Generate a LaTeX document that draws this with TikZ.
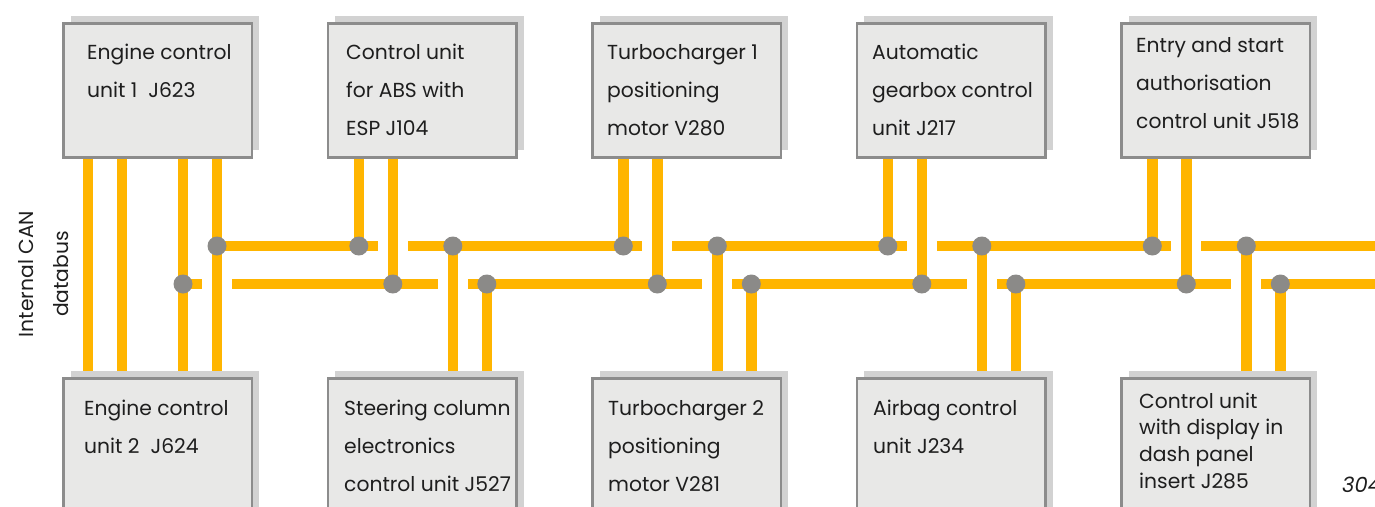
\documentclass[tikz,border=0pt]{standalone}
\usepackage{fontspec}
\setmainfont{Poppins}
\usetikzlibrary{shadows,backgrounds,calc}
\definecolor{wireY}{RGB}{255,181,0}
\definecolor{dotG}{RGB}{139,138,136}
\definecolor{boxF}{RGB}{232,232,231}
\definecolor{boxB}{RGB}{140,140,140}
\definecolor{shadowG}{RGB}{210,210,210}
\definecolor{txt}{RGB}{30,30,30}
\newcommand\unittext[5]{%
  \foreach \tline [count=\ti] in {#5} {%
    \node[lbl] (#1-\ti) at (#2,{#3+(\ti-1)*#4}) {\tline};}}
\begin{document}
\begin{tikzpicture}[x=1pt,y=-1pt,
  unit/.style={draw=boxB, line width=2.6pt, fill=boxF, minimum width=188.5pt,
    inner sep=0pt, outer sep=0pt, anchor=north west,
    general shadow={fill=shadowG, shadow xshift=7.5pt, shadow yshift=7.5pt}},
  topunit/.style={unit, minimum height=134pt},
  botunit/.style={unit, minimum height=200pt},
  wire/.style={draw=wireY, line width=10.5pt},
  jdot/.style={circle, fill=dotG, minimum size=19pt, inner sep=0pt},
  lbl/.style={font=\fontsize{20.3}{38}\selectfont, text=txt, inner sep=0pt, anchor=base west},
  smalllbl/.style={lbl, font=\fontsize{20.3}{27}\selectfont},
]
\useasboundingbox (0,0) rectangle (1375,506);

% boxes
\node[topunit] (T1) at (63.3,23.3) {};
\node[topunit] (T2) at (327.8,23.3) {};
\node[topunit] (T3) at (592.3,23.3) {};
\node[topunit] (T4) at (856.8,23.3) {};
\node[topunit] (T5) at (1121.3,23.3) {};
\node[botunit] (B1) at (63.3,378.3) {};
\node[botunit] (B2) at (327.8,378.3) {};
\node[botunit] (B3) at (592.3,378.3) {};
\node[botunit] (B4) at (856.8,378.3) {};
\node[botunit] (B5) at (1121.3,378.3) {};

% junctions: upper bus y=246, lower bus y=284
\coordinate (e1) at (88,246);
\coordinate (e2) at (122,246);
\coordinate (u1) at (217,246);
\coordinate (l1) at (183,284);
\coordinate (u2t) at (358.8,246);  \coordinate (l2t) at (392.8,284);
\coordinate (u2b) at (452.8,246);  \coordinate (l2b) at (486.8,284);
\coordinate (u3t) at (623.3,246);  \coordinate (l3t) at (657.3,284);
\coordinate (u3b) at (717.3,246);  \coordinate (l3b) at (751.3,284);
\coordinate (u4t) at (887.8,246);  \coordinate (l4t) at (921.8,284);
\coordinate (u4b) at (981.8,246);  \coordinate (l4b) at (1015.8,284);
\coordinate (u5t) at (1152.3,246); \coordinate (l5t) at (1186.3,284);
\coordinate (u5b) at (1246.3,246); \coordinate (l5b) at (1280.3,284);
\coordinate (eu) at (1385,246);
\coordinate (el) at (1385,284);

\begin{scope}[on background layer]
  % unit 1 lines, top to bottom
  \draw[wire] (e1 |- T1.south) -- (e1 |- B1.north);
  \draw[wire] (e2 |- T1.south) -- (e2 |- B1.north);
  \draw[wire] (l1 |- T1.south) -- (l1 |- B1.north);
  \draw[wire] (u1 |- T1.south) -- (u1 |- B1.north);
  % top units to buses
  \foreach \k in {2,3,4,5} {
    \draw[wire] (u\k t |- T\k.south) -- (u\k t);
    \draw[wire] (l\k t |- T\k.south) -- (l\k t);
    \draw[wire] (u\k b) -- (u\k b |- B\k.north);
    \draw[wire] (l\k b) -- (l\k b |- B\k.north);
  }
  % upper bus
  \draw[wire] (u1) -- ([xshift=-15pt]l2t |- u1);
  \draw[wire] ([xshift=15pt]l2t |- u1) -- ([xshift=-15pt]l3t |- u1);
  \draw[wire] ([xshift=15pt]l3t |- u1) -- ([xshift=-15pt]l4t |- u1);
  \draw[wire] ([xshift=15pt]l4t |- u1) -- ([xshift=-15pt]l5t |- u1);
  \draw[wire] ([xshift=15pt]l5t |- u1) -- (eu);
  % lower bus
  \draw[wire] (l1) -- ([xshift=-15pt]u1 |- l1);
  \draw[wire] ([xshift=15pt]u1 |- l1) -- ([xshift=-15pt]u2b |- l1);
  \draw[wire] ([xshift=15pt]u2b |- l1) -- ([xshift=-15pt]u3b |- l1);
  \draw[wire] ([xshift=15pt]u3b |- l1) -- ([xshift=-15pt]u4b |- l1);
  \draw[wire] ([xshift=15pt]u4b |- l1) -- ([xshift=-15pt]u5b |- l1);
  \draw[wire] ([xshift=15pt]u5b |- l1) -- (el);
\end{scope}

% junction dots
\foreach \j in {u1,l1,u2t,l2t,u2b,l2b,u3t,l3t,u3b,l3b,u4t,l4t,u4b,l4b,u5t,l5t,u5b,l5b}
  \node[jdot] (d-\j) at (\j) {};

% texts
\unittext{tT1}{87}{59}{38}{Engine control,unit 1\ \ J623}
\unittext{tT2}{346}{59}{38}{Control unit,for ABS with,ESP J104}
\unittext{tT3}{607}{59}{38}{Turbocharger 1,positioning,motor V280}
\unittext{tT4}{872}{59}{38}{Automatic,gearbox control,unit J217}
\unittext{tT5}{1136}{52}{38}{Entry and start,authorisation,control unit J518}
\unittext{tB1}{84}{415}{38}{Engine control,unit 2\ \ J624}
\unittext{tB2}{344}{415}{38}{Steering column,electronics,control unit J527}
\unittext{tB3}{608}{415}{38}{Turbocharger 2,positioning,motor V281}
\unittext{tB4}{873}{415}{38}{Airbag control,unit J234}
\foreach \tline [count=\ti] in {Control unit,with display in,dash panel,insert J285}
  \node[smalllbl] (tB5-\ti) at (1139,{408+(\ti-1)*26.7}) {\tline};

% side label
\node[lbl, anchor=base, rotate=90] (can1) at (33,274) {Internal CAN};
\node[lbl, anchor=base, rotate=90] (can2) at (68,274) {databus};

% figure number
\node[lbl, font=\fontsize{21}{24}\selectfont\itshape] (fig) at (1342,492) {304};
\end{tikzpicture}
\end{document}
